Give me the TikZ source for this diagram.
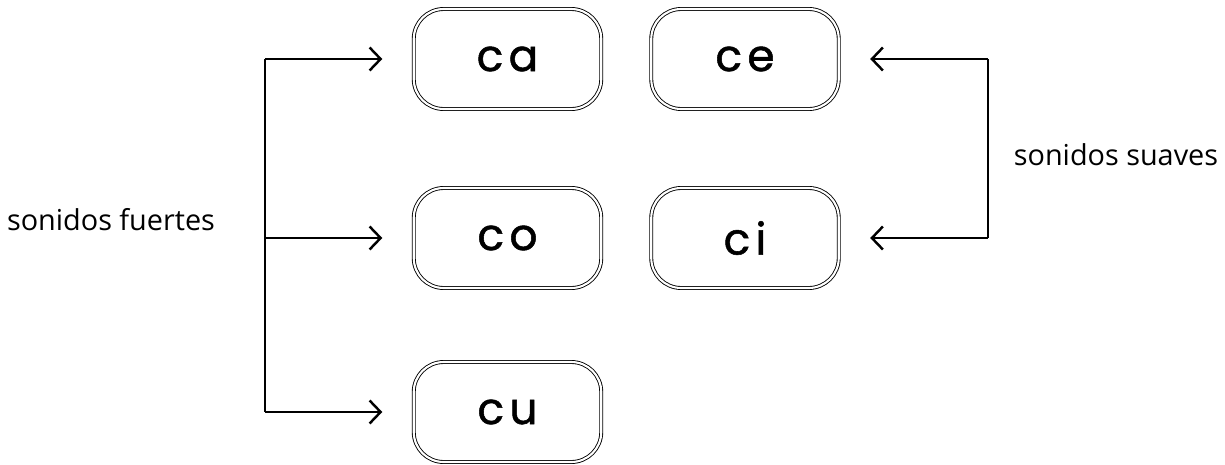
\documentclass[tikz,border=0pt]{standalone}
\usepackage{fontspec}
\setmainfont{Open Sans}
\newfontfamily\sylfont[LetterSpace=12,FakeBold=1.2]{Poppins}
\usepackage{tikz}
\usetikzlibrary{positioning, arrows.meta}
\tikzset{
    syl/.style={draw, rounded corners=0.6cm, double, double distance=1.2pt,
    	line width=0.5pt, minimum width=3.75cm, minimum height=2.0cm,
    	font=\sylfont\fontsize{25}{25}\selectfont}
}
\tikzset{
    lbl/.style={font=\fontsize{16.4}{16.4}\selectfont}
}
\tikzset{
	every path/.append style={line width=1.4pt},
	>={Straight Barb[length=2.2mm, width=4.6mm]}
}
\begin{document}
\begin{tikzpicture}
	\useasboundingbox (0cm, 0cm) rectangle (24.5cm, 9.28cm);
	\node (ca) [syl] at (10.15cm, 8.1cm) {ca};
	\node (ce) [syl] at (14.9cm, 8.1cm) {ce};
	\node (co) [syl] at (10.15cm, 4.52cm) {co};
	\node (ci) [syl] at (14.9cm, 4.52cm) {ci};
	\node (cu) [syl] at (10.15cm, 1.04cm) {cu};
	
	\node (fuertes) [lbl] at (2.22cm, 4.88cm) {sonidos fuertes};
	\node (suaves) [lbl] at (22.32cm, 6.18cm) {sonidos suaves};
	
	\coordinate (lt) at (5.3cm, 8.1cm);
	\coordinate (lm) at (5.3cm, 4.52cm);
	\coordinate (lb) at (5.3cm, 1.04cm);
	\coordinate (rt) at (19.76cm, 8.1cm);
	\coordinate (rb) at (19.76cm, 4.52cm);
	
	\coordinate (ca-in) at ([xshift=-0.62cm]ca.west);
	\coordinate (co-in) at ([xshift=-0.62cm]co.west);
	\coordinate (cu-in) at ([xshift=-0.62cm]cu.west);
	\coordinate (ce-in) at ([xshift=0.62cm]ce.east);
	\coordinate (ci-in) at ([xshift=0.62cm]ci.east);
	
	\draw (lt) -- (lb);
	\draw [->] (lt) -- (ca-in); \draw [->] (lm) -- (co-in);
	\draw [->] (lb) -- (cu-in);
	\draw (rt) -- (rb);
	\draw [->] (rt) -- (ce-in); \draw [->] (rb) -- (ci-in);
\end{tikzpicture}
\end{document}
